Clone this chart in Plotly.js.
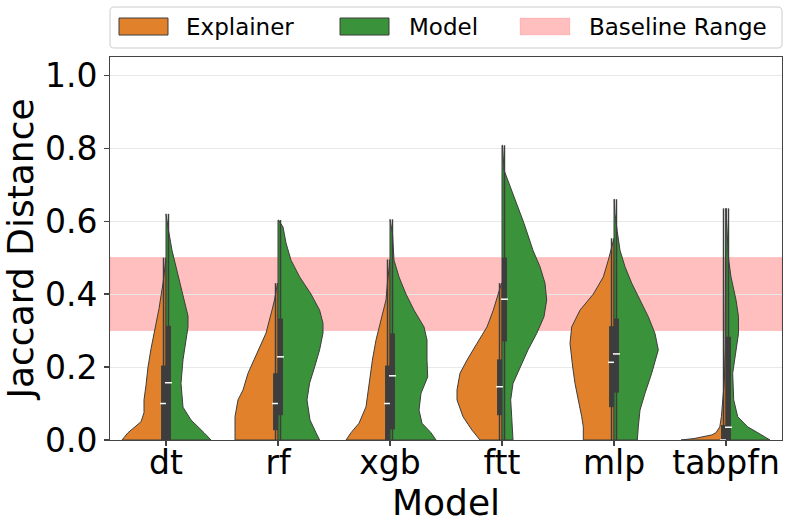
<!DOCTYPE html>
<html>
<head>
<meta charset="utf-8">
<script src="https://cdn.plot.ly/plotly-3.0.1.min.js"></script>
<style>html,body{margin:0;padding:0;background:#fff;}#chart{width:792px;height:529px;}</style>
</head>
<body>
<div id="chart"></div>
<script>
// ---- data ----
const models = ['dt', 'rf', 'xgb', 'ftt', 'mlp', 'tabpfn'];
const hueNames = ['Explainer', 'Model'];
const baselineRange = [0.3, 0.5];

// density profiles (y level, relative density) for each half violin
const dtExplainerY = [0, 0.02, 0.05, 0.075, 0.11, 0.15, 0.2, 0.25, 0.29, 0.36, 0.43, 0.5];
const dtExplainerD = [44, 38, 25, 22, 22, 20, 18, 15, 12, 7, 3, 0.5];
const dtModelY = [0, 0.02, 0.055, 0.09, 0.155, 0.22, 0.275, 0.31, 0.34, 0.384, 0.44, 0.475, 0.52, 0.575, 0.62];
const dtModelD = [45, 38, 25, 17, 15, 17, 20, 22, 22, 18, 13, 9.5, 6, 2.5, 0.5];

const rfExplainerY = [0, 0.02, 0.064, 0.11, 0.137, 0.183, 0.247, 0.293, 0.356, 0.384, 0.43];
const rfExplainerD = [43, 43, 43, 40, 35, 30, 20, 12, 6, 3.5, 0.5];
const rfModelY = [0, 0.02, 0.055, 0.11, 0.156, 0.2, 0.247, 0.293, 0.32, 0.356, 0.4, 0.447, 0.493, 0.54, 0.584, 0.603];
const rfModelD = [41.6, 38, 32, 29, 31.6, 36.6, 41.6, 45, 45, 41.6, 33, 21.7, 13, 8, 5, 0.5];

const xgbExplainerY = [0, 0.02, 0.046, 0.091, 0.155, 0.219, 0.274, 0.329, 0.384, 0.43, 0.495];
const xgbExplainerD = [44, 39, 31, 24, 21, 17.6, 14, 9, 4, 2.6, 0.5];
const xgbModelY = [0, 0.02, 0.046, 0.082, 0.128, 0.173, 0.219, 0.274, 0.31, 0.356, 0.4, 0.447, 0.493, 0.566, 0.605];
const xgbModelD = [46, 41, 32, 29, 31, 37.7, 37, 37, 34, 24, 16, 9, 4, 2.5, 0.5];

const fttExplainerY = [0, 0.027, 0.064, 0.11, 0.137, 0.183, 0.219, 0.265, 0.31, 0.356, 0.4, 0.43];
const fttExplainerD = [22, 30, 39, 45, 45, 42, 35, 25, 15, 8.7, 4, 0.5];
const fttModelY = [0, 0.064, 0.11, 0.155, 0.2, 0.247, 0.292, 0.338, 0.384, 0.43, 0.475, 0.52, 0.594, 0.667, 0.74, 0.808];
const fttModelD = [11, 9.7, 8.7, 11, 18, 26, 34.7, 42, 44.7, 43, 38, 31, 22, 12, 2, 0.5];

const mlpExplainerY = [0, 0.036, 0.064, 0.11, 0.155, 0.2, 0.265, 0.31, 0.356, 0.4, 0.447, 0.493, 0.553];
const mlpExplainerD = [30.7, 30.7, 32.3, 35.7, 39, 41.3, 44, 42.3, 34, 20.7, 10.7, 5.7, 0.5];
const mlpModelY = [0, 0.036, 0.082, 0.128, 0.183, 0.247, 0.292, 0.338, 0.384, 0.43, 0.475, 0.52, 0.571, 0.62, 0.66];
const mlpModelD = [23.3, 24.3, 26, 31, 37.7, 44.3, 41, 34.3, 26, 17.7, 11, 6, 3.3, 1, 0.3];

const tabpfnExplainerY = [0, 0.004, 0.009, 0.014, 0.02, 0.036, 0.064, 0.11, 0.164, 0.25, 0.4, 0.635];
const tabpfnExplainerD = [45, 32, 21, 14, 10, 6.2, 4.6, 3.0, 1.6, 1, 0.6, 0.3];
const tabpfnModelY = [0, 0.018, 0.036, 0.064, 0.11, 0.183, 0.247, 0.292, 0.338, 0.384, 0.447, 0.493, 0.54, 0.635];
const tabpfnModelD = [44, 33, 21.7, 11.7, 7.7, 6.7, 10, 12.5, 12.5, 10, 5, 2.7, 1.7, 0.3];

// inner box statistics per model
const explainerQ1 = [0, 0.027, 0, 0.068, 0.09, 0];
const explainerMedian = [0.1, 0.1, 0.1, 0.146, 0.213, 0.0];
const explainerQ3 = [0.204, 0.183, 0.204, 0.221, 0.312, 0.041];
const explainerWhiskerLow = [0, 0, 0, 0, 0, 0];
const explainerWhiskerHigh = [0.5, 0.43, 0.495, 0.43, 0.553, 0.635];

const modelQ1 = [0, 0.068, 0.029, 0.27, 0.13, 0];
const modelMedian = [0.157, 0.228, 0.176, 0.386, 0.236, 0.035];
const modelQ3 = [0.313, 0.333, 0.292, 0.5, 0.333, 0.283];
const modelWhiskerLow = [0, 0, 0, 0, 0, 0];
const modelWhiskerHigh = [0.62, 0.603, 0.605, 0.808, 0.66, 0.635];

// ---- styling ----
const colors = {Explainer: '#e1812c', Model: '#3a923a'};
const edge = '#3d3d3d';
const densityToWidth = 1 / 112;   // converts density units to category-axis width
const boxOffset = 0.022;

const profiles = {
  Explainer: [[dtExplainerY, dtExplainerD], [rfExplainerY, rfExplainerD], [xgbExplainerY, xgbExplainerD],
              [fttExplainerY, fttExplainerD], [mlpExplainerY, mlpExplainerD], [tabpfnExplainerY, tabpfnExplainerD]],
  Model: [[dtModelY, dtModelD], [rfModelY, rfModelD], [xgbModelY, xgbModelD],
          [fttModelY, fttModelD], [mlpModelY, mlpModelD], [tabpfnModelY, tabpfnModelD]]
};
const boxStats = {
  Explainer: {q1: explainerQ1, med: explainerMedian, q3: explainerQ3, lo: explainerWhiskerLow, hi: explainerWhiskerHigh},
  Model: {q1: modelQ1, med: modelMedian, q3: modelQ3, lo: modelWhiskerLow, hi: modelWhiskerHigh}
};

const traces = [];
hueNames.forEach(function (hue) {
  const side = hue === 'Explainer' ? -1 : 1;
  models.forEach(function (m, i) {
    const ys = profiles[hue][i][0], ds = profiles[hue][i][1];
    const xs = [i], yy = [ys[0]];
    for (let k = 0; k < ys.length; k++) { xs.push(i + side * ds[k] * densityToWidth); yy.push(ys[k]); }
    xs.push(i); yy.push(ys[ys.length - 1]);
    xs.push(i); yy.push(ys[0]);
    traces.push({type: 'scatter', x: xs, y: yy, mode: 'lines', fill: 'toself',
      fillcolor: colors[hue], line: {color: edge, width: 1}, hoverinfo: 'skip', showlegend: false});
  });
});
hueNames.forEach(function (hue) {
  const side = hue === 'Explainer' ? -1 : 1;
  const s = boxStats[hue];
  models.forEach(function (m, i) {
    const xo = i + side * boxOffset;
    traces.push({type: 'scatter', x: [xo, xo], y: [s.lo[i], s.hi[i]], mode: 'lines',
      line: {color: edge, width: 1.5}, hoverinfo: 'skip', showlegend: false});
    traces.push({type: 'scatter', x: [xo, xo], y: [s.q1[i], s.q3[i]], mode: 'lines',
      line: {color: edge, width: 5}, hoverinfo: 'skip', showlegend: false});
    traces.push({type: 'scatter', x: [xo], y: [s.med[i]], mode: 'markers',
      marker: {symbol: 'line-ew', size: 5, color: 'white', line: {color: 'white', width: 1.5}},
      hoverinfo: 'skip', showlegend: false});
  });
});

// custom legend (matplotlib style) in paper coordinates
const legendItems = [
  {label: hueNames[0], fill: colors.Explainer, line: edge, sx0: 0.0134, sx1: 0.0863, tx: 0.1100},
  {label: hueNames[1], fill: colors.Model, line: edge, sx0: 0.3423, sx1: 0.4152, tx: 0.4420},
  {label: 'Baseline Range', fill: 'rgba(255,0,0,0.25)', line: 'rgba(255,0,0,0.1)', sx0: 0.6101, sx1: 0.6845, tx: 0.7100}
];
const shapes = [
  {type: 'rect', xref: 'paper', yref: 'y', x0: 0, x1: 1, y0: baselineRange[0], y1: baselineRange[1],
   fillcolor: 'rgba(255,0,0,0.25)', line: {color: 'rgba(255,0,0,0.12)', width: 1}, layer: 'between'},
  {type: 'path', xref: 'paper', yref: 'paper',
   path: 'M0.006,1.0235 L0.994,1.0235 Q1,1.0235 1,1.034 L1,1.12 Q1,1.1305 0.994,1.1305 L0.006,1.1305 Q0,1.1305 0,1.12 L0,1.034 Q0,1.0235 0.006,1.0235 Z',
   fillcolor: 'rgba(255,255,255,0.8)', line: {color: '#cccccc', width: 1}}
];
const annotations = [];
legendItems.forEach(function (it) {
  shapes.push({type: 'rect', xref: 'paper', yref: 'paper', x0: it.sx0, x1: it.sx1, y0: 1.0574, y1: 1.1018,
    fillcolor: it.fill, line: {color: it.line, width: 1}});
  annotations.push({xref: 'paper', yref: 'paper', x: it.tx, y: 1.0783, xanchor: 'left', yanchor: 'middle',
    text: it.label, showarrow: false, font: {family: 'DejaVu Sans', size: 23, color: '#000'}});
});

const layout = {
  width: 792, height: 529,
  margin: {l: 110, r: 10, t: 57, b: 89},
  paper_bgcolor: '#ffffff', plot_bgcolor: '#ffffff',
  font: {family: 'DejaVu Sans', color: '#000'},
  showlegend: false,
  xaxis: {
    range: [-0.5, 5.5], tickmode: 'array', tickvals: models.map(function (m, i) { return i; }), ticktext: models,
    showgrid: false, zeroline: false, showline: true, mirror: true, linecolor: '#444', linewidth: 1,
    ticks: 'outside', ticklen: 5, tickcolor: '#444', tickwidth: 1.25, ticklabelstandoff: -12,
    tickfont: {family: 'DejaVu Sans', size: 33, color: '#000'},
    title: {text: 'Model', font: {family: 'DejaVu Sans', size: 36, color: '#000'}, standoff: 0}
  },
  yaxis: {
    range: [0, 1.05], tickmode: 'array', tickvals: [0, 0.2, 0.4, 0.6, 0.8, 1.0],
    ticktext: ['0.0', '0.2', '0.4', '0.6', '0.8', '1.0'],
    showgrid: true, gridcolor: '#e8e8e8', gridwidth: 1, zeroline: false,
    showline: true, mirror: true, linecolor: '#444', linewidth: 1,
    ticks: 'outside', ticklen: 5, tickcolor: '#444', tickwidth: 1.25,
    tickfont: {family: 'DejaVu Sans', size: 33, color: '#000'},
    title: {text: 'Jaccard Distance', font: {family: 'DejaVu Sans', size: 36, color: '#000'}, standoff: 6}
  },
  shapes: shapes,
  annotations: annotations
};

Plotly.newPlot('chart', traces, layout, {displayModeBar: false, staticPlot: true});
</script>
</body>
</html>
